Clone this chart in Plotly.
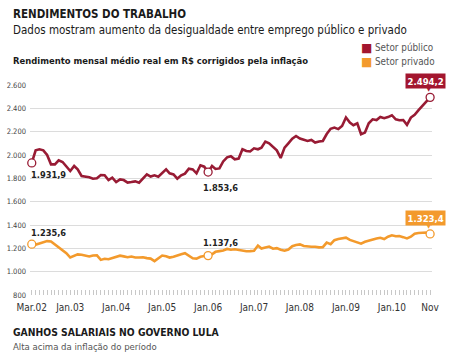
import plotly.graph_objects as go
import pandas as pd

# ---------------- data ----------------
start_month = "2002-03-01"
end_month = "2010-11-01"
months = pd.date_range(start_month, end_month, freq="MS")

setor_publico = [
    1931.9, 2040, 2049, 2040, 2000, 1920, 1920, 1955, 1940, 1900,
    1863, 1906, 1877, 1820, 1815, 1810, 1797, 1800, 1828, 1826,
    1785, 1806, 1768, 1791, 1785, 1763, 1768, 1774, 1763, 1797,
    1834, 1815, 1826, 1814, 1849, 1877, 1843, 1834, 1797, 1826,
    1840, 1883, 1877, 1843, 1912, 1900, 1853.6, 1906, 1880, 1885,
    1945, 1980, 1990, 1963, 1970, 2049, 2034, 2030, 2057, 2049,
    2063, 2115, 2100, 2070, 2040, 1975, 2063, 2100, 2140, 2163,
    2141, 2130, 2120, 2129, 2106, 2115, 2120, 2180, 2225, 2235,
    2222, 2249, 2321, 2278, 2255, 2272, 2178, 2192, 2272, 2306,
    2300, 2326, 2315, 2325, 2341, 2306, 2298, 2300, 2258, 2321,
    2345, 2385, 2420, 2458, 2494.2,
]

setor_privado = [
    1235.6, 1232, 1242, 1253, 1262, 1259, 1235, 1205, 1180, 1159,
    1121, 1136, 1148, 1145, 1136, 1130, 1139, 1140, 1101, 1110,
    1107, 1118, 1132, 1137, 1131, 1124, 1130, 1122, 1122, 1124,
    1116, 1112, 1090, 1112, 1138, 1132, 1121, 1128, 1142, 1150,
    1158, 1135, 1115, 1112, 1128, 1134, 1137.6, 1148, 1170, 1176,
    1182, 1195, 1188, 1192, 1186, 1178, 1175, 1176, 1180, 1224,
    1198, 1208, 1215, 1197, 1202, 1188, 1180, 1190, 1218, 1228,
    1234, 1220, 1216, 1214, 1214, 1208, 1210, 1249, 1236, 1270,
    1280, 1288, 1292, 1272, 1260, 1252, 1240, 1256, 1266, 1274,
    1284, 1290, 1280, 1300, 1312, 1304, 1306, 1296, 1285, 1300,
    1326, 1332, 1334, 1336, 1323.4,
]

tick_dates = ["2002-03-01", "2003-01-01", "2004-01-01", "2005-01-01", "2006-01-01",
              "2007-01-01", "2008-01-01", "2009-01-01", "2010-01-01", "2010-11-01"]
tick_labels = ["Mar.02", "Jan.03", "Jan.04", "Jan.05", "Jan.06",
               "Jan.07", "Jan.08", "Jan.09", "Jan.10", "Nov"]

y_ticks = [800, 1000, 1200, 1400, 1600, 1800, 2000, 2200, 2400, 2600]

highlight_idx = [0, 46]          # labelled points
last_idx = len(months) - 1       # boxed final value

# ---------------- style ----------------
RED = "#981b34"
RED_BOX = "#a3162f"
ORANGE = "#f39a2c"
FONT = "DejaVu Sans Condensed, DejaVu Sans, sans-serif"

W, H = 456, 355
ML, MR, MT, MB = 30, 24, 85, 60
PW, PH = W - ML - MR, H - MT - MB


def px_x(x):
    return (x - ML) / PW


def px_y(y):
    return 1 - (y - MT) / PH


def br(v):
    s = f"{v:,.1f}"
    return s.replace(",", "X").replace(".", ",").replace("X", ".")


fig = go.Figure()

series = [("Setor público", setor_publico, RED, RED_BOX),
          ("Setor privado", setor_privado, ORANGE, ORANGE)]

for name, vals, col, box in series:
    fig.add_trace(go.Scatter(x=months, y=vals, mode="lines", name=name,
                             line=dict(color=col, width=2.6),
                             showlegend=False, hoverinfo="skip"))
    idx = highlight_idx + [last_idx]
    fig.add_trace(go.Scatter(x=[months[i] for i in idx], y=[vals[i] for i in idx],
                             mode="markers",
                             marker=dict(size=8, color="white",
                                         line=dict(color=col, width=1.3)),
                             showlegend=False, hoverinfo="skip", cliponaxis=False))

annotations = []
LBL = dict(family=FONT, size=9.2, color="#222")
pub_shift = {0: (-3, -4), 46: (-7, -8)}
priv_shift = {0: (-3, 4), 46: (-7, 6)}
for i in highlight_idx:
    xs, ys = pub_shift[i]
    annotations.append(dict(x=months[i], y=setor_publico[i], xref="x", yref="y",
                            text=f"<b>{br(setor_publico[i])}</b>", showarrow=False,
                            xanchor="left", yanchor="top", xshift=xs, yshift=ys,
                            font=LBL))
    xs, ys = priv_shift[i]
    annotations.append(dict(x=months[i], y=setor_privado[i], xref="x", yref="y",
                            text=f"<b>{br(setor_privado[i])}</b>", showarrow=False,
                            xanchor="left", yanchor="bottom", xshift=xs, yshift=ys,
                            font=LBL))

# boxed final values with pointer
for name, vals, col, box in series:
    annotations.append(dict(x=months[last_idx], y=vals[last_idx], xref="x", yref="y",
                            text=f"<b>{br(vals[last_idx])}</b>", showarrow=False,
                            xanchor="center", yanchor="bottom", xshift=-5, yshift=8,
                            bgcolor=box, borderpad=1.5,
                            font=dict(family=FONT, size=9.5, color="white")))
    annotations.append(dict(x=months[last_idx], y=vals[last_idx], xref="x", yref="y",
                            text="▼", showarrow=False,
                            xanchor="center", yanchor="bottom", xshift=-1, yshift=2,
                            font=dict(family="DejaVu Sans", size=7, color=box)))

# legend (square + label)
for k, (name, vals, col, box) in enumerate(series):
    yy = 48 + 14 * k
    annotations.append(dict(x=px_x(366.5), y=px_y(yy), xref="paper", yref="paper",
                            xanchor="center", yanchor="middle", text="■", showarrow=False,
                            font=dict(family="DejaVu Sans", size=12, color=box)))
    annotations.append(dict(x=px_x(373), y=px_y(yy), xref="paper", yref="paper",
                            xanchor="left", yanchor="middle", text=name, showarrow=False,
                            font=dict(family=FONT, size=9.8, color="#555")))

# texts
annotations += [
    dict(x=px_x(11), y=px_y(14), xref="paper", yref="paper", xanchor="left", yanchor="middle",
         text="<b>RENDIMENTOS DO TRABALHO</b>", showarrow=False,
         font=dict(family=FONT, size=11.5, color="#1a1a1a")),
    dict(x=px_x(11), y=px_y(30), xref="paper", yref="paper", xanchor="left", yanchor="middle",
         text="Dados mostram aumento da desigualdade entre emprego público e privado", showarrow=False,
         font=dict(family=FONT, size=11.5, color="#1a1a1a")),
    dict(x=px_x(11), y=px_y(60), xref="paper", yref="paper", xanchor="left", yanchor="middle",
         text="<b>Rendimento mensal médio real em R$ corrigidos pela inflação</b>", showarrow=False,
         font=dict(family=FONT, size=9.4, color="#1a1a1a")),
    dict(x=px_x(11), y=px_y(332), xref="paper", yref="paper", xanchor="left", yanchor="middle",
         text="<b>GANHOS SALARIAIS NO GOVERNO LULA</b>", showarrow=False,
         font=dict(family=FONT, size=10.3, color="#1a1a1a")),
    dict(x=px_x(11), y=px_y(346), xref="paper", yref="paper", xanchor="left", yanchor="middle",
         text="Alta acima da inflação do período", showarrow=False,
         font=dict(family=FONT, size=9.5, color="#555")),
]

fig.update_layout(
    width=W, height=H,
    margin=dict(l=ML, r=MR, t=MT, b=MB, pad=0, autoexpand=False),
    paper_bgcolor="white", plot_bgcolor="white",
    separators=",.",
    font=dict(family=FONT, color="#333"),
    annotations=annotations,
    showlegend=False,
    xaxis=dict(range=["2002-02-15", "2010-11-16"], tickmode="array",
               tickvals=tick_dates, ticktext=tick_labels, tickangle=0,
               automargin=False,
               showgrid=False, zeroline=False, showline=False,
               ticks="inside", ticklen=5, tickcolor="#c8c8c8",
               minor=dict(tickmode="linear", tick0="2002-03-01", dtick="M1",
                          ticks="inside", ticklen=5, tickcolor="#c8c8c8", showgrid=False),
               tickfont=dict(family=FONT, size=10, color="#333"),
               ticklabelstandoff=5),
    yaxis=dict(range=[800, 2600], tickmode="array", tickvals=y_ticks,
               automargin=False,
               tickformat=",d", showgrid=True, gridcolor="#dcdcdc", gridwidth=1,
               zeroline=False, showline=False, ticks="",
               tickfont=dict(family=FONT, size=7.5, color="#444"),
               ticklabelstandoff=3),
)

fig.write_html("out.html", config={"displayModeBar": False, "staticPlot": True},
               post_script="document.body.style.margin='0';document.body.style.overflow='hidden';")
